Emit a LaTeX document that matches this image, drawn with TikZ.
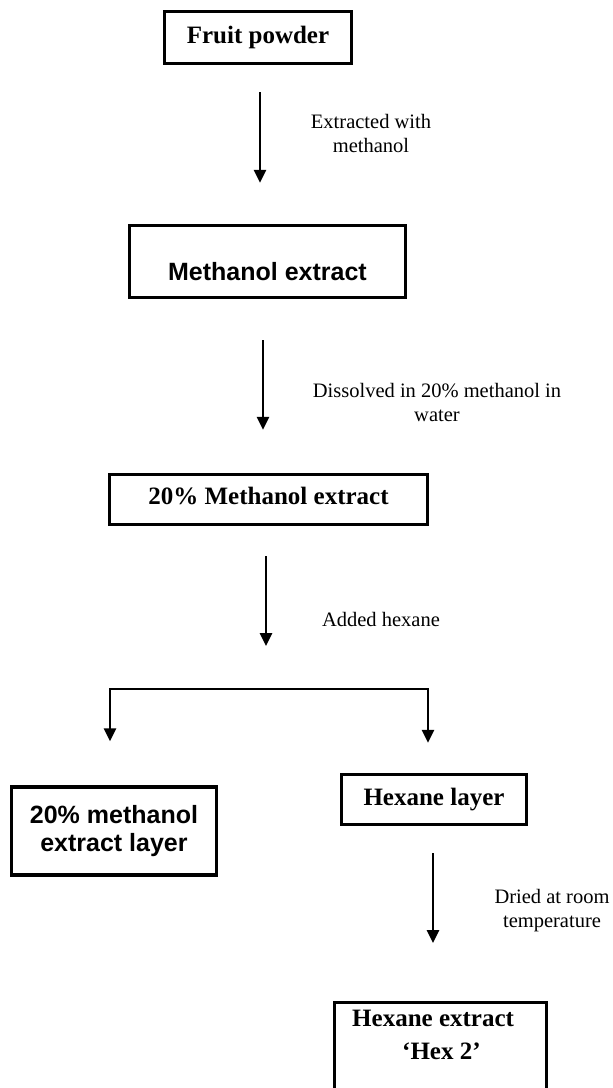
\documentclass[tikz,border=0pt]{standalone}
\usepackage{fontspec}
\setmainfont{Liberation Serif}
\newfontfamily\arialfont{Liberation Sans}
\usetikzlibrary{arrows.meta, positioning}

\begin{document}
\begin{tikzpicture}[
    x=1pt, y=-1pt,
    stage/.style={
        rectangle,
        draw=black,
        line width=3.4pt,
        inner sep=4pt,
        align=center,
        font=\bfseries\fontsize{25}{28}\selectfont
    },
    sansstage/.style={
        stage,
        font=\arialfont\bfseries\fontsize{25}{28}\selectfont
    },
    note/.style={
        align=center,
        inner sep=0pt,
        font=\fontsize{20.5}{24}\selectfont
    },
    flow/.style={
        -{Triangle[length=13pt, width=12pt]},
        line width=2.6pt
    }
]
    \useasboundingbox (0,0) rectangle (613,1088);
    \clip (0,0) rectangle (613,1088);

    % Stages
    \node[stage, minimum width=187pt, minimum height=52pt] (fruit_box) at (258, 37.5) {Fruit powder};
    \node[sansstage, minimum width=276pt, inner ysep=0pt, text height=54.5pt, text depth=17.5pt] (meth_box) at (267.5, 261.5) {Methanol extract};
    \node[stage, minimum width=318pt, minimum height=50pt, text depth=8pt] (mix_box) at (268.5, 499.5) {20\% Methanol extract};
    \node[sansstage, minimum width=205pt, minimum height=88pt] (layer_box) at (114, 831) {20\% methanol\\extract layer};
    \node[stage, minimum width=185pt, minimum height=50pt] (hexlayer_box) at (434, 799.5) {Hexane layer};
    \node[stage, anchor=north west, align=left, inner xsep=17.5pt, inner ysep=7pt, text depth=80pt] (hexext_box) at (333, 1001) {\makebox[177pt][l]{Hexane extract}\\[5pt]\hspace*{50pt}`Hex 2'};

    % Step notes
    \node[note] (extract_note) at (371, 133.5) {Extracted with\\methanol};
    \node[note] (dissolve_note) at (437, 402.5) {Dissolved in 20\% methanol in\\water};
    \node[note] (hexane_note) at (381, 619) {Added hexane};
    \node[note] (dry_note) at (552, 911) {Dried at room\\temperature};

    % Arrows
    \draw[flow, shorten <=27pt, shorten >=41pt] ([xshift=2pt]fruit_box.south) -- ([xshift=2pt]fruit_box.south |- meth_box.north);
    \draw[flow, shorten <=41pt, shorten >=43pt] ([xshift=-4.5pt]meth_box.south) -- ([xshift=-4.5pt]meth_box.south |- mix_box.north);
    \coordinate (split) at (269, 689);
    \draw[flow, shorten <=30pt, shorten >=43pt] ([xshift=-2.5pt]mix_box.south) -- ([xshift=-2.5pt]mix_box.south |- split);
    \draw[flow, shorten >=44pt] (split) -| ([xshift=-4pt]layer_box.north);
    \draw[flow, shorten >=30pt] (split) -| ([xshift=-6pt]hexlayer_box.north);
    \draw[flow, shorten <=27pt, shorten >=58pt] ([xshift=-1pt]hexlayer_box.south) -- ([xshift=-1pt]hexlayer_box.south |- hexext_box.north);
\end{tikzpicture}
\end{document}
